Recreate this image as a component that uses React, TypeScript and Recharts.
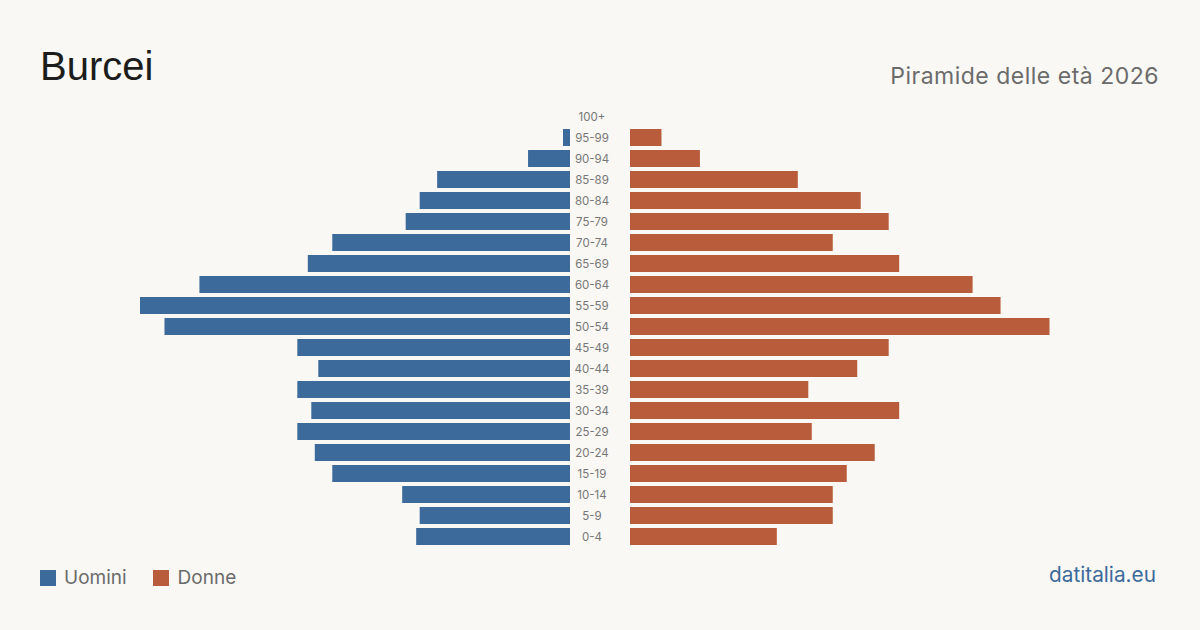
import { BarChart, Bar, XAxis, YAxis } from "recharts";

const ages = [
  "100+", "95-99", "90-94", "85-89", "80-84", "75-79", "70-74", "65-69", "60-64", "55-59",
  "50-54", "45-49", "40-44", "35-39", "30-34", "25-29", "20-24", "15-19", "10-14", "5-9", "0-4",
];
const men = [0, 2, 12, 38, 43, 47, 68, 75, 106, 123, 116, 78, 72, 78, 74, 78, 73, 68, 48, 43, 44];
const women = [0, 9, 20, 48, 66, 74, 58, 77, 98, 106, 120, 74, 65, 51, 77, 52, 70, 62, 58, 58, 42];

const BLUE = "#3b6a9b";
const ORANGE = "#b95c3c";
const BG = "#f9f8f4";

const data = ages.map((age, i) => ({ age, men: men[i], women: women[i] }));
const maxVal = Math.max(...men, ...women);

const AgeTick = (props: any) => {
  const { x, y, payload } = props;
  return (
    <text x={x - 30} y={y} dy={4} textAnchor="middle" fill="#777" fontSize={11.5} fontFamily="Inter, 'Noto Sans', sans-serif">
      {payload.value}
    </text>
  );
};

export default function App() {
  return (
    <div style={{ position: "absolute", left: 0, top: 0, width: 1200, height: 630, background: BG, overflow: "hidden", fontFamily: "Inter, 'Noto Sans', sans-serif" }}>
      <div style={{ position: "absolute", left: 40, top: 44, fontSize: 40, color: "#1c1c1c", fontFamily: "'Liberation Sans', Arial, sans-serif" }}>Burcei</div>
      <div style={{ position: "absolute", right: 41, top: 62, fontSize: 23, letterSpacing: 0.5, color: "#6b6b6b" }}>Piramide delle età 2026</div>

      <div style={{ position: "absolute", left: 140, top: 106 }}>
        <BarChart layout="vertical" width={430} height={441} data={data} margin={{ top: 0, right: 0, bottom: 0, left: 0 }} barCategoryGap={4}>
          <XAxis type="number" domain={[0, maxVal]} reversed hide />
          <YAxis type="category" dataKey="age" hide />
          <Bar dataKey="men" fill={BLUE} barSize={17} isAnimationActive={false} />
        </BarChart>
      </div>

      <div style={{ position: "absolute", left: 570, top: 106 }}>
        <BarChart layout="vertical" width={490} height={441} data={data} margin={{ top: 0, right: 0, bottom: 0, left: 0 }} barCategoryGap={4}>
          <XAxis type="number" domain={[0, maxVal]} hide />
          <YAxis type="category" dataKey="age" width={60} axisLine={false} tickLine={false} tick={<AgeTick />} interval={0} />
          <Bar dataKey="women" fill={ORANGE} barSize={17} isAnimationActive={false} />
        </BarChart>
      </div>

      <div style={{ position: "absolute", left: 40, top: 566, display: "flex", alignItems: "center", fontSize: 19, color: "#6b6b6b" }}>
        <span style={{ width: 16, height: 16, background: BLUE, display: "inline-block", marginRight: 8 }} />
        <span style={{ marginRight: 26 }}>Uomini</span>
        <span style={{ width: 16, height: 16, background: ORANGE, display: "inline-block", marginRight: 9 }} />
        <span>Donne</span>
      </div>
      <div style={{ position: "absolute", right: 44, top: 562, fontSize: 20.8, color: BLUE }}>datitalia.eu</div>
    </div>
  );
}
